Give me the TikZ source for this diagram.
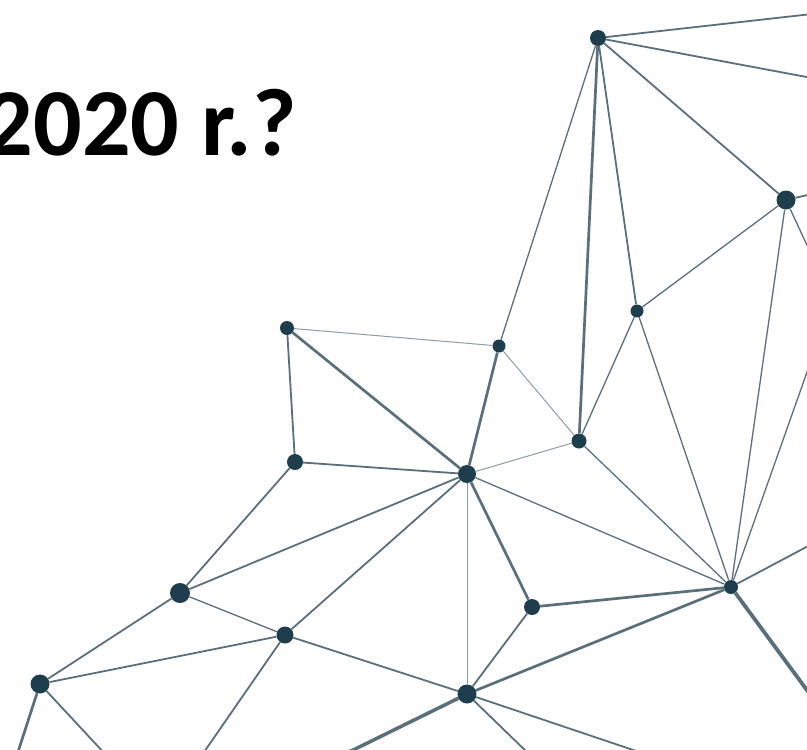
\documentclass[tikz,border=0pt]{standalone}
\usepackage{fontspec}
\setmainfont{Carlito}
\definecolor{dotc}{HTML}{1E3E4E}
\definecolor{linec}{HTML}{5B6F7A}
\definecolor{thinc}{HTML}{8C9CA5}
\tikzstyle{dot}=[circle,fill=dotc,inner sep=0pt,minimum size=16pt]
\tikzstyle{small}=[dot,minimum size=13pt]
\tikzstyle{big}=[dot,minimum size=19pt]
\tikzstyle{link}=[draw=linec,line width=1.8pt]
\tikzstyle{light}=[draw=linec,line width=1.3pt]
\tikzstyle{heavy}=[draw=linec,line width=2.7pt]
\tikzstyle{faint}=[draw=thinc,line width=1pt]

\begin{document}
\begin{tikzpicture}[x=1pt,y=-1pt]
  \useasboundingbox (0,0) rectangle (807,750);
  \clip (0,0) rectangle (807,750);
  \node[anchor=base east,inner sep=0pt,font=\fontsize{96}{96}\selectfont\bfseries] (title) at (297,155) {2020 r.?};
  % nodes
  \node[dot] (top) at (598,38) {};
  \node[big] (corner) at (786,200) {};
  \node[small] (mid) at (637,311) {};
  \node[small] (upper) at (499,346) {};
  \node[small,minimum size=14pt] (left) at (287,328) {};
  \node[dot,minimum size=15pt] (cross) at (579,441) {};
  \node[dot] (west) at (295,462) {};
  \node[big,minimum size=18pt] (hub) at (467,474) {};
  \node[big,minimum size=20pt] (far) at (180,593) {};
  \node[dot] (drop) at (532,607) {};
  \node[small,minimum size=14pt] (east) at (731,587) {};
  \node[dot,minimum size=17pt] (low) at (285,635) {};
  \node[big] (edge) at (40,684) {};
  \node[big] (base) at (467,694) {};
  % ends outside the frame
  \coordinate (o1) at (812,14);
  \coordinate (o2) at (812,78);
  \coordinate (o3) at (812,194);
  \coordinate (o4) at (812,256);
  \coordinate (o5) at (812,358);
  \coordinate (o6) at (812,544);
  \coordinate (o7) at (812,697);
  \coordinate (o8) at (17,755);
  \coordinate (o9) at (106,755);
  \coordinate (o10) at (202,755);
  \coordinate (o11) at (343,755);
  \coordinate (o12) at (530,755);
  \coordinate (o13) at (648,755);
  % links
  \draw[link] (top) -- (o1);
  \draw[link] (top) -- (o2);
  \draw[link] (top) -- (corner);
  \draw[light] (top) -- (upper);
  \draw[heavy] (top) -- (cross);
  \draw[link] (top) -- (mid);
  \draw[link] (corner) -- (o3);
  \draw[light] (corner) -- (o4);
  \draw[light] (corner) -- (mid);
  \draw[light] (corner) -- (east);
  \draw[light] (mid) -- (cross);
  \draw[light] (mid) -- (east);
  \draw[faint] (upper) -- (left);
  \draw[heavy] (upper) -- (hub);
  \draw[faint] (upper) -- (cross);
  \draw[link] (left) -- (west);
  \draw[heavy] (left) -- (hub);
  \draw[link] (west) -- (hub);
  \draw[link] (west) -- (far);
  \draw[faint] (cross) -- (hub);
  \draw[light] (cross) -- (east);
  \draw[light] (hub) -- (east);
  \draw[faint] (hub) -- (base);
  \draw[heavy] (hub) -- (drop);
  \draw[link] (hub) -- (far);
  \draw[link] (hub) -- (low);
  \draw[light] (far) -- (low);
  \draw[link] (far) -- (edge);
  \draw[link] (low) -- (edge);
  \draw[link] (low) -- (base);
  \draw[link] (low) -- (o10);
  \draw[heavy] (edge) -- (o8);
  \draw[link] (edge) -- (o9);
  \draw[link] (base) -- (drop);
  \draw[heavy] (base) -- (east);
  \draw[heavy,line width=3.5pt] (base) -- (o11);
  \draw[link] (base) -- (o12);
  \draw[link] (base) -- (o13);
  \draw[heavy] (drop) -- (east);
  \draw[light] (east) -- (o5);
  \draw[link] (east) -- (o6);
  \draw[heavy,line width=3.8pt] (east) -- (o7);
\end{tikzpicture}
\end{document}
